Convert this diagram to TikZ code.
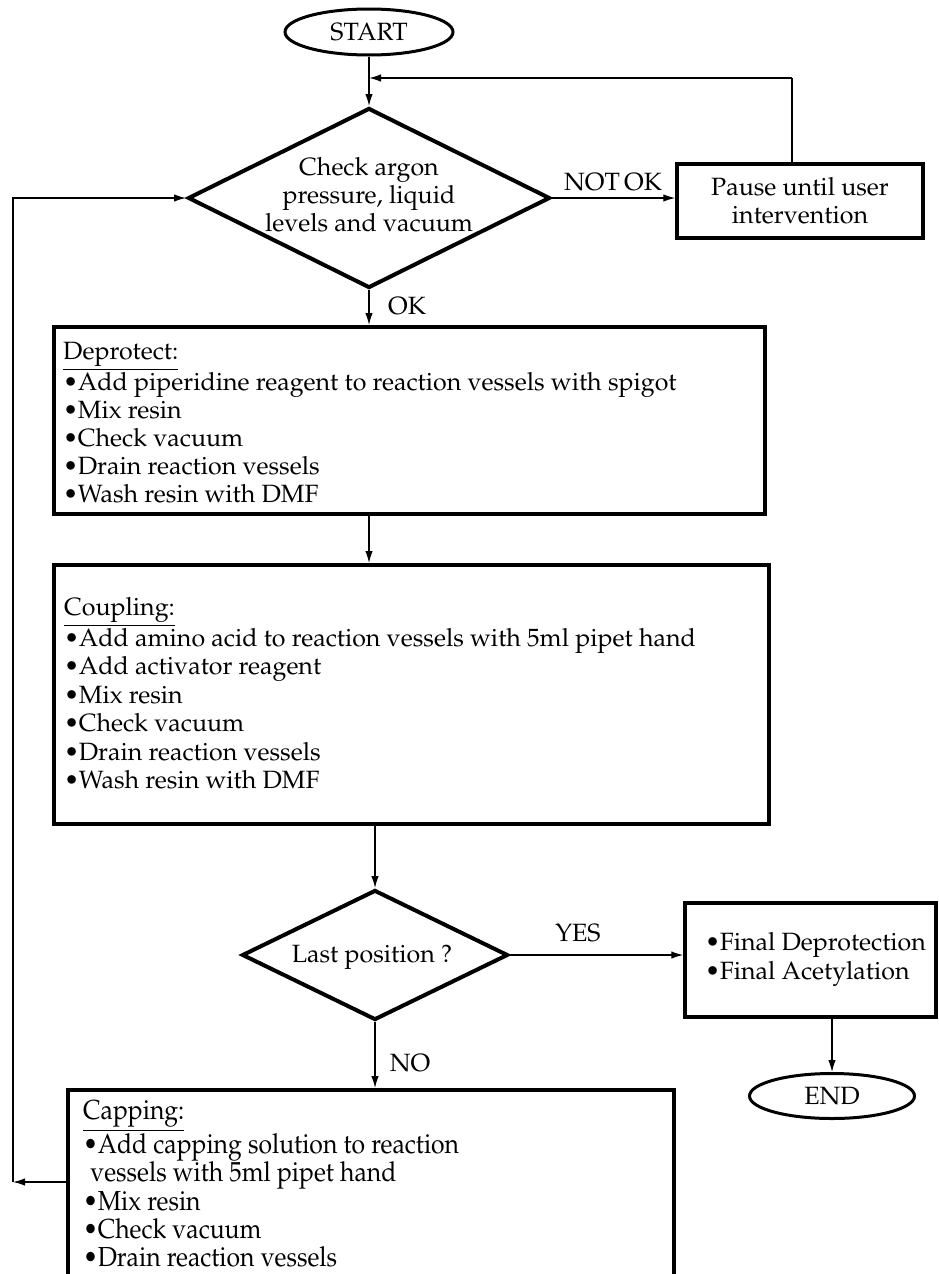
\documentclass[tikz,border=0pt]{standalone}
\usepackage[T1]{fontenc}
\usepackage{mathpazo}
\usepackage{graphicx}
\usetikzlibrary{shapes.geometric,arrows.meta}
\newcommand{\myb}{\textbullet\hspace{-0.5pt}}
\newcommand{\cnd}[1]{\scalebox{0.9}[1]{#1}}
\begin{document}
\begin{tikzpicture}[x=1pt,y=-1pt,
  every node/.style={font=\fontsize{25}{28}\selectfont},
  box/.style={draw, line width=3.5pt, rectangle, inner sep=0pt},
  dec/.style={draw, diamond, line width=4pt, inner sep=0pt},
  term/.style={draw, ellipse, line width=3pt, inner sep=0pt},
  txt/.style={inner sep=0pt, align=left, anchor=north west},
  lbl/.style={inner sep=0pt},
  arr/.style={line width=1.3pt, -{Latex[length=12pt,width=7.5pt]}},
  ln/.style={line width=1.3pt}]
\clip (0,0) rectangle (939,1274);
\fill[white] (0,0) rectangle (939,1274);
% top part
\node[term, minimum width=168pt, minimum height=46pt] (start) at (369,32) {START};
\node[dec, minimum width=362pt, minimum height=180pt] (d1) at (369,198) {};
\node[lbl, align=center] (d1t) at (369,195) {Check argon\\pressure, liquid\\levels and vacuum};
\node[box, align=center, minimum width=246pt, minimum height=74pt] (pause) at (800,201) {Pause until user\\intervention};
\node[lbl] (notok) at (613,182) {NOT\hspace{-2pt} OK};
\node[lbl] (ok) at (407,306) {OK};
\coordinate (fb) at (792,78);
\draw[arr] (start.south) -- (d1.north);
\draw[ln] (pause.north -| fb) -- (fb);
\draw[arr] (fb) -- (fb -| d1.north);
\draw[arr] (d1.east) -- (d1.east -| pause.west);
% deprotect
\node[box, minimum width=711pt, minimum height=187pt, anchor=north west] (dep) at (52,325) {};
\node[txt] (dept) at (63,339.4) {\underline{Deprotect:}\strut\\
\myb Add piperidine reagent to reaction vessels with spigot\\
\myb Mix resin\\
\myb Check vacuum\\
\myb Drain reaction vessels\\
\myb Wash resin with DMF};
\draw[arr] (d1.south) -- (d1.south |- dep.north);
% coupling
\node[box, minimum width=715pt, minimum height=259pt, anchor=north west] (coup) at (52,563) {};
\node[txt, font=\fontsize{25}{28.5}\selectfont] (coupt) at (64,595) {\underline{Coupling:}\strut\\
\myb Add amino acid to reaction vessels with 5ml pipet hand\\
\myb Add activator reagent\\
\myb Mix resin\\
\myb Check vacuum\\
\myb Drain reaction vessels\\
\myb Wash resin with DMF};
\draw[arr] (dep.south -| d1.south) -- (coup.north -| d1.south);
% decision 2
\node[dec, minimum width=266pt, minimum height=130pt] (d2) at (375,955) {};
\node[lbl] (d2t) at (372,957) {Last position ?};
\draw[arr] (coup.south -| d2.north) -- (d2.north);
\node[box, minimum width=251pt, minimum height=114pt] (fin) at (810.5,960) {};
\node[txt, font=\fontsize{25}{29}\selectfont] (fint) at (705,929.7) {\myb Final Deprotection\strut\\
\myb Final Acetylation};
\draw[arr] (d2.east) -- (d2.east -| fin.west);
\node[lbl] (yes) at (578,933) {YES};
\node[term, minimum width=165pt, minimum height=45pt] (end) at (832,1096) {END};
\draw[arr] (fin.south -| end.north) -- (end.north);
\node[lbl] (no) at (410,1063) {NO};
% capping
\node[box, minimum width=606pt, minimum height=300pt, anchor=north west] (cap) at (66,1088) {};
\draw[arr] (d2.south) -- (d2.south |- cap.north);
\node[txt, font=\fontsize{27.5}{28.4}\selectfont] (capt) at (83,1097) {\rule{0pt}{22pt}\cnd{\underline{Capping:}}\\
\cnd{\myb Add capping solution to reaction}\\
\cnd{\hspace{8pt}vessels with 5ml pipet hand}\\
\cnd{\myb Mix resin}\\
\cnd{\myb Check vacuum}\\
\cnd{\myb Drain reaction vessels}};
\coordinate (lp) at (13,1182);
\draw[arr] (cap.west |- lp) -- (lp);
\draw[arr] (lp) |- (d1.west);
\end{tikzpicture}
\end{document}
